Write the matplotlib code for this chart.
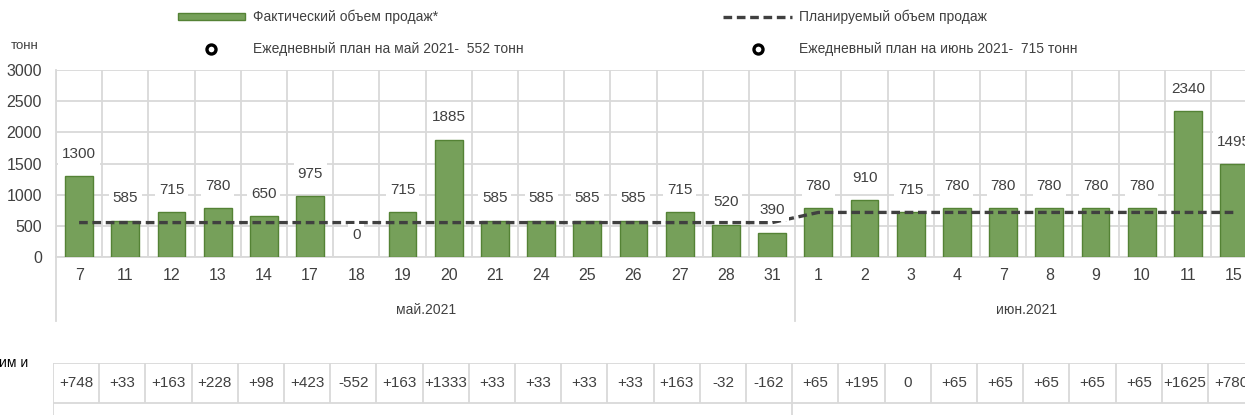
import matplotlib.pyplot as plt
import matplotlib.transforms as mtransforms
from matplotlib.lines import Line2D
from matplotlib.patches import Rectangle
import numpy as np

plt.rcParams['font.family'] = ['Liberation Sans', 'DejaVu Sans']

# sales per working day, tonnes
days = ['7', '11', '12', '13', '14', '17', '18', '19', '20', '21', '24', '25', '26', '27', '28', '31',
        '1', '2', '3', '4', '7', '8', '9', '10', '11', '15']
months = ['май.2021', 'июн.2021']
month_len = [16, 10]
actual = [1300, 585, 715, 780, 650, 975, 0, 715, 1885, 585, 585, 585, 585, 715, 520, 390,
          780, 910, 715, 780, 780, 780, 780, 780, 2340, 1495]
plan_daily = [552, 715]
plan = [plan_daily[0]] * month_len[0] + [plan_daily[1]] * month_len[1]
delta = [a - p for a, p in zip(actual, plan)]

W, H = 1245, 415
BAR = '#76a05a'
BAR_EDGE = '#548235'
GRID = '#d9d9d9'
TXT = '#404040'

def fx(px):
    return px / W

def fy(py):
    return 1 - py / H

fig = plt.figure(figsize=(W / 100, H / 100), dpi=100)

n = len(days)
x = np.arange(n)
cell = 46.2
ax = fig.add_axes([fx(56), fy(257), (cell * n) / W, 187 / H])

# no outline for empty days
edge_w = [1 if v > 0 else 0 for v in actual]
ax.bar(x, actual, width=0.6, color=BAR, edgecolor=BAR_EDGE, linewidth=edge_w, zorder=3)
ax.plot(x, plan, color='#404040', lw=2.4, dashes=(2.6, 1.4), zorder=4)

for i, v in enumerate(actual):
    ax.annotate(str(v), (i, v), xytext=(0, 16), textcoords='offset points',
                ha='center', va='center', fontsize=11, color=TXT, zorder=6,
                bbox=dict(boxstyle='square,pad=0.25', fc='white', ec='none'))

ax.set_xlim(-0.5, n - 0.5)
ax.set_ylim(0, 3000)
ax.set_yticks(range(0, 3001, 500))
ax.set_xticks(x)
ax.set_xticklabels(days)
ax.set_xticks(np.arange(-0.5, n, 1), minor=True)
ax.tick_params(axis='both', which='both', length=0, labelsize=11.5, colors=TXT)
ax.tick_params(axis='x', pad=8)
ax.tick_params(axis='y', pad=10)
ax.grid(axis='y', which='major', color=GRID, lw=1.3, zorder=0)
ax.grid(axis='x', which='minor', color=GRID, lw=1.3, zorder=0)
for s in ['top', 'right']:
    ax.spines[s].set_visible(False)
for s in ['left', 'bottom']:
    ax.spines[s].set_color(GRID)
    ax.spines[s].set_linewidth(1.3)

# month level of the category axis
trans = mtransforms.blended_transform_factory(ax.transData, ax.transAxes)
start = -0.5
for name, ln in zip(months, month_len):
    ax.plot([start, start], [0, -0.34], transform=trans, color=GRID, lw=1.3, clip_on=False)
    ax.text(start + ln / 2, -0.285, name, transform=trans, ha='center', va='center',
            fontsize=10, color=TXT)
    start += ln

fig.text(fx(25), fy(46), 'тонн', ha='center', va='center', fontsize=9.5, color=TXT)

# difference table under the chart
tab = fig.add_axes([fx(53), 0, (cell * n) / W, fy(363)])
tab.set_xlim(-0.5, n - 0.5)
tab.set_ylim(52, 0)
tab.axis('off')
tab.hlines([0, 40], -0.5, n - 0.5, color=GRID, lw=1.3)
tab.vlines(np.arange(-0.5, n, 1), 0, 40, color=GRID, lw=1.3)
tab.vlines([-0.5, month_len[0] - 0.5], 40, 52, color=GRID, lw=1.3)
for i, d in enumerate(delta):
    s = '+%d' % d if d > 0 else str(d)
    tab.text(i, 20, s, ha='center', va='center', fontsize=11, color=TXT, clip_on=False)
fig.text(fx(28), fy(363), 'им и', ha='right', va='center', fontsize=10, color='black')

# legend
fig.add_artist(Rectangle((fx(178), fy(20)), fx(245) - fx(178), fy(13) - fy(20),
                         transform=fig.transFigure, fc=BAR, ec=BAR_EDGE, lw=1))
fig.text(fx(253), fy(17), 'Фактический объем продаж*', va='center', fontsize=10, color=TXT)
fig.add_artist(Line2D([fx(723), fx(792)], [fy(17), fy(17)], transform=fig.transFigure,
                      color='#404040', lw=2.4, dashes=(2.6, 1.4)))
fig.text(fx(799), fy(17), 'Планируемый объем продаж', va='center', fontsize=10, color=TXT)
for mx, tx, label in [(211, 253, 'Ежедневный план на май 2021-  552 тонн'),
                      (758, 799, 'Ежедневный план на июнь 2021-  715 тонн')]:
    fig.add_artist(Line2D([fx(mx)], [fy(49)], transform=fig.transFigure, marker='o',
                          ms=6.5, mfc='white', mec='black', mew=2.4, ls='none'))
    fig.text(fx(tx), fy(49), label, va='center', fontsize=10, color=TXT)

fig.savefig('out.png', dpi=100)
